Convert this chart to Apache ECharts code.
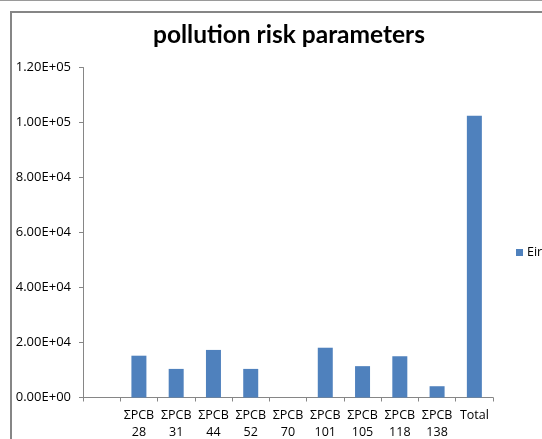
<!DOCTYPE html>
<html>
<head>
<meta charset="utf-8">
<script src="https://cdn.jsdelivr.net/npm/echarts@6/dist/echarts.min.js"></script>
<style>
  html, body { margin: 0; padding: 0; background: #fff; }
  #chart { width: 542px; height: 439px; }
</style>
</head>
<body>
<div id="chart"></div>
<script>
// Categories (first slot is left blank on the axis)
const categories = ['', 'ΣPCB 28', 'ΣPCB 31', 'ΣPCB 44', 'ΣPCB 52', 'ΣPCB 70',
  'ΣPCB 101', 'ΣPCB 105', 'ΣPCB 118', 'ΣPCB 138', 'Total'];
// Eir values per congener
const eirValues = [null, 15200, 10400, 17300, 10400, 0, 18100, 11400, 15000, 4100, 102500];
const seriesName = 'Eir';
const titleText = 'pollution risk parameters';
const yTicks = { min: 0, max: 120000, step: 20000 };

const TITLE_FONT = 'Lato, "Open Sans", sans-serif';
const FONT = '"Open Sans", Lato, sans-serif';

function sci(v) {
  const s = Number(v).toExponential(2).toUpperCase();
  const m = s.match(/^(-?[\d.]+)E([+-])(\d+)$/);
  const exp = m[3].length < 2 ? '0' + m[3] : m[3];
  return m[1] + 'E' + m[2] + exp;
}

const chart = echarts.init(document.getElementById('chart'), null, { renderer: 'canvas' });
chart.setOption({
  backgroundColor: '#ffffff',
  animation: false,
  title: {
    text: titleText,
    left: 284,
    textAlign: 'center',
    top: 18,
    textStyle: { fontFamily: TITLE_FONT, fontWeight: 'bold', fontSize: 24.5, color: '#000' }
  },
  legend: {
    data: [seriesName],
    left: 511,
    top: 241,
    orient: 'vertical',
    itemWidth: 7,
    itemHeight: 7,
    itemGap: 4,
    icon: 'rect',
    textStyle: { fontFamily: FONT, fontSize: 12.5, color: '#000', padding: [0, 0, 0, -1] }
  },
  grid: { left: 83, right: 49, top: 67.5, bottom: 41.5, containLabel: false, outerBoundsMode: 'none' },
  xAxis: {
    type: 'category',
    data: categories,
    boundaryGap: true,
    axisLine: { lineStyle: { color: '#868686', width: 1 } },
    axisTick: { show: true, alignWithLabel: false, length: 4, lineStyle: { color: '#868686' } },
    axisLabel: {
      interval: 0,
      margin: 10,
      fontFamily: FONT,
      fontSize: 12.5,
      lineHeight: 16.5,
      color: '#000',
      formatter: v => v.replace(' ', '\n')
    }
  },
  yAxis: {
    type: 'value',
    min: yTicks.min,
    max: yTicks.max,
    interval: yTicks.step,
    axisLine: { show: true, lineStyle: { color: '#868686', width: 1 } },
    axisTick: { show: true, length: 4, lineStyle: { color: '#868686' } },
    splitLine: { show: false },
    axisLabel: {
      margin: 12,
      fontFamily: FONT,
      fontSize: 13,
      color: '#000',
      formatter: sci
    }
  },
  series: [{
    name: seriesName,
    type: 'bar',
    data: eirValues,
    barWidth: 15,
    itemStyle: { color: '#4F81BD' }
  }],
  graphic: [
    // outer frame lines
    { type: 'line', shape: { x1: 0, y1: 0.5, x2: 542, y2: 0.5 }, style: { stroke: '#9a9a9a', lineWidth: 1 } },
    { type: 'line', shape: { x1: 10, y1: 12, x2: 542, y2: 12 }, style: { stroke: '#868686', lineWidth: 2 } },
    { type: 'line', shape: { x1: 11, y1: 11, x2: 11, y2: 439 }, style: { stroke: '#868686', lineWidth: 2 } }
  ]
});
</script>
</body>
</html>
